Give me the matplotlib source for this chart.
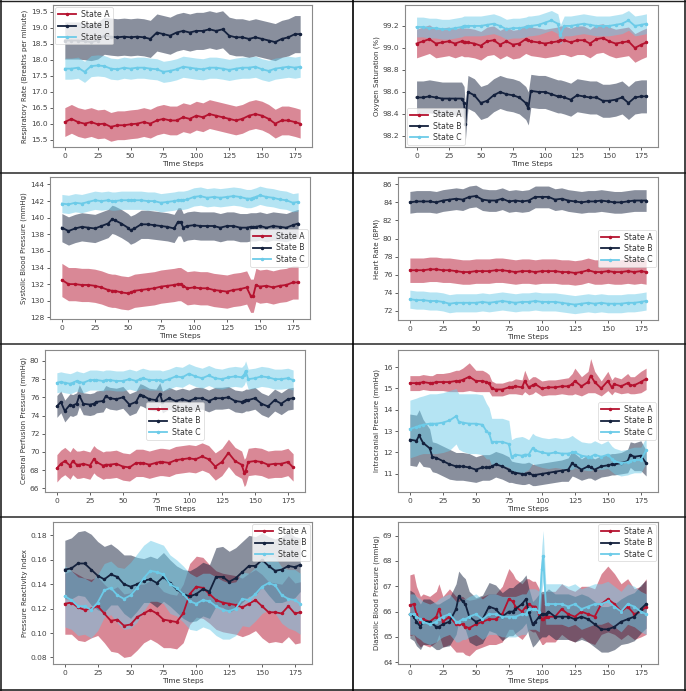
import matplotlib
matplotlib.use("Agg")
import matplotlib.pyplot as plt
from matplotlib.lines import Line2D
from matplotlib.ticker import MultipleLocator
import numpy as np

# ---------------- data ----------------
T5 = [0, 5, 10, 15, 20, 25, 30, 35, 40, 45, 50, 55, 60, 65, 70, 75, 80, 85, 90,
      95, 100, 105, 110, 115, 120, 125, 130, 135, 140, 145, 150, 155, 160, 165,
      170, 175, 179]

# Respiratory rate
rr_a = [16.05, 16.15, 16.05, 16.0, 16.05, 15.98, 16.0, 15.9, 15.95, 15.95, 15.98, 16.0,
        16.05, 16.0, 16.1, 16.15, 16.1, 16.1, 16.2, 16.15, 16.25, 16.2, 16.3, 16.25,
        16.2, 16.15, 16.1, 16.15, 16.25, 16.3, 16.25, 16.15, 16.0, 16.1, 16.1, 16.05, 16.0]
rr_b = [18.6, 18.6, 18.6, 18.58, 18.55, 18.6, 18.75, 18.72, 18.7, 18.72, 18.7, 18.72,
        18.7, 18.65, 18.85, 18.8, 18.75, 18.85, 18.9, 18.85, 18.9, 18.9, 18.95, 18.9,
        18.95, 18.75, 18.7, 18.7, 18.65, 18.7, 18.65, 18.6, 18.55, 18.65, 18.7, 18.8, 18.8]
rr_c = [17.72, 17.72, 17.75, 17.62, 17.8, 17.82, 17.8, 17.72, 17.7, 17.75, 17.72, 17.75,
        17.75, 17.72, 17.7, 17.62, 17.65, 17.7, 17.78, 17.75, 17.72, 17.7, 17.75, 17.75,
        17.72, 17.68, 17.72, 17.75, 17.75, 17.78, 17.7, 17.65, 17.72, 17.75, 17.78, 17.75, 17.78]
rr_sd = [0.45, 0.58, 0.33]

# Oxygen saturation
T_o2 = [0, 5, 10, 15, 20, 25, 30, 35, 37, 38, 40, 45, 50, 55, 60, 65, 70, 75, 80, 85,
        87, 89, 95, 100, 105, 110, 112, 115, 120, 125, 130, 135, 140, 145, 150, 155,
        160, 165, 170, 175, 179]
o2_a = [99.04, 99.06, 99.08, 99.04, 99.05, 99.06, 99.04, 99.06, 99.05, 99.05, 99.05,
        99.04, 99.02, 99.06, 99.07, 99.03, 99.06, 99.03, 99.04, 99.08, 99.07, 99.06,
        99.05, 99.04, 99.05, 99.06, 99.07, 99.07, 99.05, 99.07, 99.07, 99.04, 99.08,
        99.09, 99.06, 99.04, 99.05, 99.06, 99.0, 99.03, 99.05]
o2_b = [98.55, 98.55, 98.56, 98.55, 98.54, 98.54, 98.54, 98.54, 98.5, 98.31, 98.6,
        98.57, 98.5, 98.52, 98.57, 98.6, 98.58, 98.57, 98.55, 98.5, 98.45, 98.61,
        98.6, 98.6, 98.58, 98.56, 98.56, 98.55, 98.53, 98.57, 98.56, 98.55, 98.55,
        98.52, 98.52, 98.53, 98.55, 98.5, 98.55, 98.56, 98.56]
o2_c = [99.19, 99.19, 99.18, 99.18, 99.17, 99.17, 99.18, 99.19, 99.2, 99.2, 99.2,
        99.2, 99.2, 99.21, 99.22, 99.2, 99.17, 99.18, 99.18, 99.19, 99.2, 99.2,
        99.21, 99.23, 99.25, 99.22, 99.12, 99.2, 99.2, 99.21, 99.22, 99.21, 99.2,
        99.2, 99.2, 99.21, 99.22, 99.25, 99.2, 99.21, 99.22]
o2_sd = [0.13, 0.15, 0.09]

# Systolic blood pressure
T_sbp = [0, 5, 10, 15, 20, 25, 30, 35, 38, 40, 45, 50, 52, 55, 60, 65, 70, 75, 80, 85,
         88, 90, 92, 95, 100, 105, 110, 115, 120, 125, 130, 135, 140, 143, 145, 147,
         150, 155, 160, 165, 170, 175, 179]
sbp_a = [132.5, 132.0, 132.0, 131.9, 131.9, 131.8, 131.6, 131.3, 131.2, 131.2, 131.0,
         130.9, 131.0, 131.2, 131.3, 131.4, 131.5, 131.7, 131.8, 131.9, 132.0, 132.0,
         131.8, 131.5, 131.6, 131.5, 131.5, 131.3, 131.2, 131.1, 131.3, 131.4, 131.6,
         130.6, 130.6, 131.9, 131.7, 131.8, 131.6, 131.8, 131.9, 132.2, 132.2]
sbp_b = [138.8, 138.4, 138.7, 138.9, 138.8, 138.7, 139.0, 139.3, 139.8, 139.7, 139.3,
         138.8, 138.5, 138.7, 139.2, 139.2, 139.1, 139.0, 138.9, 138.7, 139.5, 139.5,
         138.8, 139.0, 139.1, 139.0, 139.0, 139.0, 138.8, 139.0, 139.0, 138.8, 138.8,
         138.9, 138.9, 138.9, 139.0, 138.8, 139.0, 138.9, 138.8, 139.1, 139.3]
sbp_c = [141.7, 141.6, 141.8, 141.7, 141.9, 142.1, 142.0, 142.1, 142.0, 142.0, 142.1,
         142.1, 142.1, 142.1, 142.1, 142.0, 142.0, 141.8, 141.9, 142.0, 142.1, 142.1,
         142.1, 142.2, 142.5, 142.6, 142.4, 142.5, 142.4, 142.5, 142.6, 142.5, 142.3,
         142.3, 142.4, 142.5, 142.7, 142.5, 142.4, 142.2, 142.1, 141.8, 141.9]
sbp_sd = [2.0, 1.7, 1.1]

# Heart rate
hr_a = [76.5, 76.5, 76.5, 76.6, 76.6, 76.5, 76.5, 76.4, 76.3, 76.3, 76.4, 76.4, 76.4,
        76.5, 76.5, 76.4, 76.3, 76.4, 76.4, 76.3, 76.4, 76.4, 76.4, 76.3, 76.3, 76.2,
        76.3, 76.5, 76.3, 76.3, 76.4, 76.3, 76.3, 76.4, 76.3, 76.4, 76.3]
hr_b = [84.0, 84.1, 84.1, 84.1, 84.0, 84.2, 84.3, 84.4, 84.3, 84.6, 84.7, 84.3, 84.2,
        84.2, 84.4, 84.1, 84.2, 84.1, 84.2, 84.6, 84.6, 84.6, 84.3, 84.4, 84.2, 84.1,
        84.0, 84.1, 84.1, 84.2, 84.1, 84.0, 84.0, 84.1, 84.2, 84.2, 84.2]
hr_c = [73.3, 73.2, 73.2, 73.1, 73.1, 73.0, 72.8, 72.9, 72.9, 72.9, 72.9, 73.0, 72.9,
        73.0, 73.1, 73.0, 72.9, 73.0, 73.0, 73.1, 73.0, 73.0, 73.0, 72.9, 72.8, 72.7,
        72.8, 72.9, 72.8, 72.9, 72.8, 72.8, 72.8, 72.9, 72.9, 73.0, 73.1]
hr_sd = [1.35, 1.2, 1.0]

# Cerebral perfusion pressure
T_cpp = [0, 3, 6, 10, 12, 15, 17, 20, 25, 28, 30, 35, 37, 40, 45, 50, 55, 60, 63, 65,
         70, 75, 78, 80, 85, 90, 95, 100, 105, 110, 115, 120, 125, 130, 135, 140, 142,
         143, 145, 150, 155, 160, 165, 170, 175, 179]
cpp_a = [68.2, 68.7, 69.0, 68.5, 69.0, 68.6, 68.6, 68.7, 68.5, 69.2, 68.9, 68.5, 68.6,
         68.6, 68.7, 68.4, 68.3, 68.8, 68.8, 68.8, 68.6, 68.8, 68.9, 68.9, 68.8, 69.1,
         69.2, 69.3, 69.2, 69.5, 69.2, 68.4, 68.9, 69.9, 69.0, 68.6, 67.7, 67.9, 68.9,
         69.0, 68.9, 68.6, 68.7, 68.7, 68.9, 68.3]
cpp_b = [75.0, 75.5, 74.5, 75.2, 75.1, 75.3, 76.2, 75.3, 75.2, 75.3, 75.5, 75.6, 76.1,
         75.9, 75.8, 76.0, 75.2, 75.5, 76.3, 76.2, 75.8, 75.7, 76.4, 75.5, 75.9, 75.6,
         75.8, 75.6, 75.9, 75.9, 75.6, 75.9, 75.9, 76.0, 75.6, 75.5, 75.6, 75.7, 75.7,
         75.9, 75.3, 75.0, 75.7, 75.3, 75.8, 75.9]
cpp_c = [77.6, 77.7, 77.6, 77.5, 77.6, 77.8, 77.7, 77.6, 77.9, 77.9, 77.9, 77.8, 77.9,
         77.9, 77.8, 77.8, 78.0, 77.8, 78.0, 78.1, 77.9, 77.9, 77.9, 77.8, 78.0, 78.3,
         78.2, 78.6, 78.3, 78.1, 78.4, 78.1, 78.0, 78.2, 78.3, 78.2, 78.5, 78.9, 78.0,
         78.1, 78.3, 78.2, 78.0, 78.0, 78.1, 77.9]
cpp_sd = [1.5, 1.2, 1.1]

# Intracranial pressure
T_icp = [0, 5, 7, 10, 15, 17, 20, 25, 30, 35, 37, 40, 45, 50, 55, 58, 60, 62, 65, 70,
         75, 77, 80, 85, 87, 90, 93, 95, 100, 105, 110, 115, 120, 123, 125, 130, 135,
         137, 140, 145, 150, 153, 155, 160, 165, 167, 170, 175, 179]
icp_a = [15.25, 15.25, 15.25, 15.3, 15.25, 15.25, 15.3, 15.3, 15.3, 15.35, 15.35, 15.4,
         15.55, 15.35, 15.35, 15.3, 15.25, 15.0, 14.95, 14.95, 15.05, 15.05, 15.1, 15.05,
         15.35, 15.05, 15.15, 15.2, 15.0, 15.05, 15.05, 15.1, 15.1, 15.2, 15.35, 15.1,
         15.3, 15.6, 15.3, 15.0, 15.35, 15.05, 15.2, 15.1, 15.25, 15.15, 15.15, 15.3, 15.45]
icp_b = [12.6, 12.55, 12.8, 12.45, 12.2, 11.8, 11.75, 11.6, 11.45, 11.35, 11.35, 11.35,
         11.3, 11.2, 11.3, 11.3, 11.3, 11.35, 11.45, 11.35, 11.2, 11.1, 11.05, 11.0, 11.0,
         11.05, 10.95, 10.95, 11.0, 11.05, 11.1, 11.15, 11.2, 11.5, 11.4, 11.2, 11.35,
         11.3, 11.2, 11.35, 11.4, 11.45, 11.45, 11.5, 11.6, 11.9, 11.8, 11.85, 11.5]
icp_c = [13.1, 13.2, 13.25, 13.3, 13.35, 13.35, 13.35, 13.4, 13.5, 13.7, 13.45, 13.4,
         13.35, 13.35, 13.3, 13.0, 12.9, 12.5, 12.5, 12.5, 12.4, 11.8, 11.9, 11.85, 11.9,
         11.9, 12.2, 12.1, 12.0, 11.95, 12.0, 11.95, 11.95, 12.0, 12.0, 11.85, 11.8, 11.8,
         11.9, 11.8, 11.9, 11.7, 11.6, 11.5, 11.55, 11.6, 11.65, 11.65, 12.1]
icp_a_sd = [0.35, 0.35, 0.35, 0.35, 0.35, 0.35, 0.4, 0.4, 0.45, 0.5, 0.5, 0.55, 0.65,
            0.5, 0.5, 0.45, 0.4, 0.35, 0.3, 0.3, 0.3, 0.3, 0.35, 0.35, 0.5, 0.35, 0.4,
            0.35, 0.35, 0.35, 0.35, 0.35, 0.4, 0.5, 0.6, 0.45, 0.5, 0.8, 0.5, 0.35, 0.45,
            0.35, 0.35, 0.35, 0.45, 0.4, 0.4, 0.5, 0.5]
icp_b_sd = [1.2, 1.2, 1.2, 1.1, 0.9, 0.7, 0.7, 0.7, 0.7, 0.65, 0.65, 0.65, 0.65, 0.6,
            0.6, 0.6, 0.6, 0.6, 0.6, 0.6, 0.6, 0.5, 0.5, 0.5, 0.5, 0.5, 0.5, 0.5, 0.5,
            0.5, 0.5, 0.5, 0.55, 0.6, 0.55, 0.5, 0.55, 0.5, 0.5, 0.5, 0.5, 0.5, 0.5, 0.5,
            0.55, 0.6, 0.65, 0.7, 0.6]
icp_c_sd = [1.35, 1.35, 1.35, 1.35, 1.4, 1.4, 1.4, 1.4, 1.4, 1.3, 1.3, 1.35, 1.4, 1.4,
            1.4, 1.3, 1.2, 1.1, 1.1, 1.1, 1.1, 0.8, 0.8, 0.9, 0.8, 0.7, 0.7, 0.7, 0.7,
            0.7, 0.7, 0.7, 0.75, 0.8, 0.7, 0.65, 0.65, 0.65, 0.65, 0.6, 0.65, 0.6, 0.6,
            0.6, 0.6, 0.6, 0.6, 0.6, 0.6]

# Pressure reactivity index
prx_a = [0.124, 0.125, 0.121, 0.119, 0.120, 0.122, 0.116, 0.110, 0.111, 0.106, 0.107,
         0.113, 0.116, 0.119, 0.116, 0.111, 0.110, 0.109, 0.116, 0.132, 0.138, 0.137,
         0.132, 0.127, 0.125, 0.124, 0.123, 0.121, 0.124, 0.127, 0.122, 0.117, 0.117,
         0.116, 0.122, 0.116, 0.117]
prx_b = [0.152, 0.153, 0.157, 0.157, 0.152, 0.147, 0.144, 0.148, 0.146, 0.140, 0.138,
         0.140, 0.143, 0.144, 0.141, 0.146, 0.141, 0.136, 0.132, 0.130, 0.132, 0.136,
         0.134, 0.146, 0.146, 0.142, 0.145, 0.150, 0.155, 0.155, 0.160, 0.155, 0.151,
         0.152, 0.155, 0.154, 0.156]
prx_c = [0.130, 0.127, 0.122, 0.122, 0.119, 0.125, 0.135, 0.137, 0.131, 0.128, 0.131,
         0.137, 0.145, 0.151, 0.150, 0.148, 0.140, 0.137, 0.132, 0.126, 0.124, 0.127,
         0.126, 0.122, 0.119, 0.118, 0.120, 0.128, 0.127, 0.132, 0.138, 0.141, 0.139,
         0.131, 0.128, 0.127, 0.124]
prx_a_sd = [0.025, 0.026, 0.027, 0.026, 0.024, 0.024, 0.024, 0.025, 0.027, 0.026, 0.026,
            0.027, 0.024, 0.024, 0.024, 0.023, 0.022, 0.022, 0.024, 0.025, 0.025, 0.025,
            0.024, 0.024, 0.024, 0.024, 0.024, 0.024, 0.025, 0.025, 0.026, 0.025, 0.024,
            0.024, 0.025, 0.025, 0.025]
prx_b_sd = [0.024, 0.025, 0.026, 0.027, 0.029, 0.028, 0.027, 0.025, 0.023, 0.024, 0.026,
            0.022, 0.018, 0.019, 0.020, 0.020, 0.019, 0.019, 0.020, 0.021, 0.022, 0.022,
            0.022, 0.024, 0.025, 0.025, 0.025, 0.025, 0.025, 0.024, 0.022, 0.024, 0.026,
            0.027, 0.028, 0.025, 0.022]
prx_c_sd = [0.025, 0.024, 0.024, 0.023, 0.023, 0.023, 0.022, 0.022, 0.023, 0.025, 0.027,
            0.028, 0.027, 0.025, 0.024, 0.024, 0.024, 0.023, 0.023, 0.023, 0.022, 0.022,
            0.023, 0.024, 0.024, 0.023, 0.022, 0.022, 0.022, 0.022, 0.022, 0.022, 0.023,
            0.023, 0.024, 0.025, 0.025]

# Diastolic blood pressure
T_dbp = [0, 3, 5, 8, 10, 15, 20, 22, 25, 30, 35, 37, 40, 42, 45, 50, 55, 60, 65, 70, 75,
         78, 80, 85, 88, 90, 93, 95, 98, 100, 101, 103, 105, 110, 115, 120, 125, 130,
         135, 140, 145, 150, 155, 160, 165, 170, 175, 179]
dbp_a = [66.25, 66.3, 65.9, 65.6, 65.7, 65.6, 65.8, 66.1, 65.6, 65.8, 65.5, 65.5, 65.5,
         65.4, 65.35, 65.5, 65.6, 65.7, 65.7, 65.9, 66.5, 66.4, 66.2, 66.0, 66.2, 66.3,
         66.2, 66.2, 65.9, 65.7, 65.7, 65.8, 65.8, 65.8, 66.1, 65.9, 65.8, 66.0, 65.9,
         65.8, 66.3, 66.5, 66.3, 66.0, 66.2, 65.9, 66.0, 66.2]
dbp_b = [65.9, 65.8, 65.6, 65.4, 65.6, 65.6, 65.4, 65.4, 65.5, 65.6, 66.1, 66.6, 66.4,
         66.3, 65.8, 65.6, 65.7, 66.2, 66.1, 65.8, 66.0, 66.0, 66.1, 66.3, 66.5, 66.0,
         65.5, 65.6, 65.8, 65.9, 65.9, 65.9, 66.0, 65.8, 65.8, 65.8, 65.7, 65.8, 65.7,
         65.5, 65.3, 65.3, 65.4, 65.6, 65.7, 65.8, 66.1, 66.3]
dbp_c = [65.9, 65.9, 65.8, 65.7, 65.6, 65.5, 65.6, 65.7, 65.8, 65.9, 65.6, 65.6, 65.7,
         65.7, 65.8, 65.9, 65.7, 65.9, 65.9, 65.8, 65.8, 65.8, 65.8, 65.9, 65.9, 66.1,
         66.1, 66.1, 66.0, 67.7, 68.2, 66.3, 66.3, 66.3, 66.3, 66.2, 66.3, 66.1, 66.2,
         66.3, 66.3, 66.4, 66.2, 66.0, 66.3, 66.2, 66.0, 65.9]
dbp_a_sd = [1.2, 1.2, 1.1, 1.0, 1.0, 1.0, 1.0, 1.0, 1.0, 1.1, 1.1, 1.1, 1.1, 1.1, 1.1,
            1.0, 1.0, 1.0, 1.0, 1.1, 1.2, 1.1, 1.1, 1.1, 1.1, 1.0, 1.0, 1.0, 1.0, 1.0,
            1.0, 1.0, 1.0, 1.0, 1.0, 1.0, 1.0, 1.0, 1.1, 1.1, 1.2, 1.3, 1.2, 1.1, 1.1,
            1.0, 1.0, 1.1]
dbp_b_sd = [0.95, 0.95, 0.95, 0.9, 0.9, 0.9, 0.9, 0.9, 0.9, 0.95, 1.0, 1.0, 1.0, 1.0,
            1.0, 0.95, 0.95, 0.95, 0.95, 0.95, 0.95, 0.95, 0.95, 0.95, 0.95, 0.95, 0.9,
            0.9, 0.9, 0.9, 0.9, 0.9, 0.9, 0.9, 0.9, 0.9, 0.9, 0.9, 0.9, 0.9, 0.9, 0.9,
            0.9, 0.9, 0.95, 0.95, 0.95, 0.95]
dbp_c_sd = [0.8, 0.8, 0.8, 0.8, 0.8, 0.8, 0.8, 0.8, 0.8, 0.8, 0.8, 0.8, 0.8, 0.8, 0.8,
            0.8, 0.8, 0.8, 0.8, 0.8, 0.8, 0.8, 0.8, 0.8, 0.8, 0.8, 0.8, 0.8, 0.8, 0.9,
            1.0, 0.8, 0.8, 0.8, 0.8, 0.8, 0.8, 0.8, 0.8, 0.8, 0.8, 0.8, 0.8, 0.8, 0.8,
            0.8, 0.8, 0.8]

states = ["State A", "State B", "State C"]
colors = ["#b5122f", "#14213d", "#6ccbe8"]

# ---------------- figure ----------------
W, H = 686, 691
fig = plt.figure(figsize=(W / 100, H / 100), dpi=100)
fig.patch.set_facecolor("white")

def px_axes(x0, y0, x1, y1):
    return fig.add_axes([x0 / W, 1 - y1 / H, (x1 - x0) / W, (y1 - y0) / H])

FS = 5.4
FSY = 5.0
panels = [
    # (box px, T, means, sds, ylabel, ylim, ystep, legend loc)
    ((53, 5, 312, 147), T5, [rr_a, rr_b, rr_c], rr_sd,
     "Respiratory Rate (Breaths per minute)", (15.27, 19.71), 0.5, "upper left"),
    ((405, 5, 658, 147), T_o2, [o2_a, o2_b, o2_c], o2_sd,
     "Oxygen Saturation (%)", (98.10, 99.39), 0.2, "lower left"),
    ((50, 177, 310, 319), T_sbp, [sbp_a, sbp_b, sbp_c], sbp_sd,
     "Systolic Blood Pressure (mmHg)", (127.8, 144.9), 2, "center right"),
    ((398, 177, 658, 320), T5, [hr_a, hr_b, hr_c], hr_sd,
     "Heart Rate (BPM)", (71.0, 86.8), 2, "center right"),
    ((45, 350, 305, 492), T_cpp, [cpp_a, cpp_b, cpp_c], cpp_sd,
     "Cerebral Perfusion Pressure (mmHg)", (65.6, 81.2), 2, "center"),
    ((398, 350, 658, 492), T_icp, [icp_a, icp_b, icp_c], [icp_a_sd, icp_b_sd, icp_c_sd],
     "Intracranial Pressure (mmHg)", (10.15, 16.8), 1, "center right"),
    ((53, 522, 312, 664), T5, [prx_a, prx_b, prx_c], [prx_a_sd, prx_b_sd, prx_c_sd],
     "Pressure Reactivity Index", (0.0746, 0.191), 0.02, "upper right"),
    ((398, 522, 658, 664), T_dbp, [dbp_a, dbp_b, dbp_c], [dbp_a_sd, dbp_b_sd, dbp_c_sd],
     "Diastolic Blood Pressure (mmHg)", (63.93, 69.54), 1, "upper right"),
]

for box, T, means, sds, ylab, ylim, ystep, loc in panels:
    ax = px_axes(*box)
    t = np.array(T)
    for i in range(3):
        m = np.array(means[i])
        sd = np.array(sds[i]) if np.ndim(sds[i]) else np.full(len(m), sds[i])
        ax.fill_between(t, m - sd, m + sd, color=colors[i], alpha=0.5, lw=0)
    for i in range(3):
        m = np.array(means[i])
        ax.plot(t, m, color=colors[i], lw=1.3, marker="o", ms=1.5, label=states[i])
    ax.set_xlim(-9, 188)
    ax.set_ylim(*ylim)
    ax.xaxis.set_major_locator(MultipleLocator(25))
    ax.yaxis.set_major_locator(MultipleLocator(ystep))
    ax.set_xlabel("Time Steps", fontsize=FS, color="#333333", labelpad=1.5)
    ax.set_ylabel(ylab, fontsize=FSY, color="#333333", labelpad=2)
    ax.tick_params(labelsize=FS, colors="#444444", length=2.5, width=0.6, pad=1.5)
    for s in ax.spines.values():
        s.set_color("#8a8a8a")
        s.set_linewidth(0.8)
    leg = ax.legend(loc=loc, fontsize=FS + 0.2, frameon=True, handlelength=2.3,
                    borderpad=0.35, labelspacing=0.3, handletextpad=0.7,
                    borderaxespad=0.3)
    leg.get_frame().set_linewidth(0.5)
    for txt in leg.get_texts():
        txt.set_color("#333333")

# ---------------- grid lines of the composite ----------------
def hline(y, x0, x1, color, lw):
    fig.add_artist(Line2D([x0 / W, x1 / W], [1 - y / H, 1 - y / H],
                          transform=fig.transFigure, color=color, lw=lw))

def vline(x, y0, y1, color, lw):
    fig.add_artist(Line2D([x / W, x / W], [1 - y0 / H, 1 - y1 / H],
                          transform=fig.transFigure, color=color, lw=lw))

for y in (172.5, 344.5, 516.5):
    hline(y, 0, W, "#555555", 1.4)
hline(0.6, 0, W, "#222222", 1.0)
hline(689.5, 0, W, "#222222", 1.2)
vline(1.0, 0, H, "#111111", 1.1)
vline(353, 0, H, "#000000", 1.2)
vline(684.5, 0, H, "#111111", 1.1)

fig.savefig("out.png", dpi=100, facecolor="white")
